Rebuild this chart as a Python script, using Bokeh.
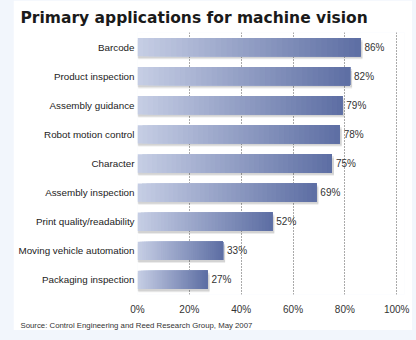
from bokeh.plotting import figure
from bokeh.models import Range1d, FactorRange, FixedTicker, Title, ColumnDataSource
from bokeh.layouts import column
from bokeh.transform import dodge
from bokeh.embed import file_html
from bokeh.resources import INLINE
from bokeh.core.properties import value

categories = ["Barcode", "Product inspection", "Assembly guidance", "Robot motion control",
              "Character", "Assembly inspection", "Print quality/readability",
              "Moving vehicle automation", "Packaging inspection"]
percent = [86, 82, 79, 78, 75, 69, 52, 33, 27]
tick_values = [0, 20, 40, 60, 80, 100]
tick_labels = ["0%", "20%", "40%", "60%", "80%", "100%"]
title_text = "Primary applications for machine vision"
source_text = "Source: Control Engineering and Reed Research Group, May 2007"

FONT = "Liberation Sans"
LIGHT = (197, 205, 228)
DARK = (94, 111, 164)


def mix(t):
    r = [int(round(a + (b - a) * t)) for a, b in zip(LIGHT, DARK)]
    return "#%02x%02x%02x" % tuple(r)


p = figure(width=399, height=330,
           y_range=FactorRange(factors=list(reversed(categories))),
           x_range=Range1d(0, 103),
           output_backend="svg", toolbar_location=None,
           min_border_left=124, min_border_right=8, min_border_top=32, min_border_bottom=10,
           margin=(0, 4, 10, 13))
p.outline_line_color = None
p.background_fill_color = "white"
p.border_fill_color = "white"

# shadows
shadow = ColumnDataSource(dict(y=categories, right=[v + 0.8 for v in percent]))
p.hbar(y=dodge("y", -0.07, range=p.y_range), left=0, right="right", height=0.63,
       fill_color="#000000", fill_alpha=0.10, line_color=None, source=shadow)
p.hbar(y=dodge("y", -0.12, range=p.y_range), left=0.3, right="right", height=0.6,
       fill_color="#000000", fill_alpha=0.08, line_color=None, source=shadow)

# gradient bars
N = 40
ys, lefts, rights, cols = [], [], [], []
for c, v in zip(categories, percent):
    for j in range(N):
        ys.append(c)
        lefts.append(v * j / N)
        rights.append(v)
        cols.append(mix(j / (N - 1)))
bars = ColumnDataSource(dict(y=ys, left=lefts, right=rights, color=cols))
p.hbar(y="y", left="left", right="right", height=0.63, fill_color="color",
       line_color=None, source=bars)

# value labels
labels = ColumnDataSource(dict(x=percent, y=categories, t=[f"{v}%" for v in percent]))
p.text(x="x", y="y", text="t", source=labels, x_offset=4, text_baseline="middle",
       text_font_size="10px", text_color="#333333", text_font=value(FONT))

# axes
p.xaxis.ticker = FixedTicker(ticks=tick_values)
p.xaxis.major_label_overrides = dict(zip(tick_values, tick_labels))
p.xaxis.axis_line_color = None
p.xaxis.major_tick_line_color = None
p.xaxis.minor_tick_line_color = None
p.xaxis.major_tick_out = 0
p.xaxis.major_tick_in = 0
p.xaxis.major_label_standoff = 9
p.xaxis.major_label_text_font = FONT
p.xaxis.major_label_text_font_size = "10px"
p.xaxis.major_label_text_color = "#333333"

p.yaxis.axis_line_color = None
p.yaxis.major_tick_line_color = None
p.yaxis.minor_tick_line_color = None
p.yaxis.major_tick_out = 0
p.yaxis.major_tick_in = 0
p.yaxis.major_label_standoff = 3
p.yaxis.major_label_text_font = FONT
p.yaxis.major_label_text_font_size = "9.8px"
p.yaxis.major_label_text_color = "#222222"

p.xgrid.ticker = FixedTicker(ticks=tick_values)
p.xgrid.grid_line_dash = "1 2"
p.xgrid.grid_line_color = "#555555"
p.ygrid.grid_line_color = None

p.title.text = title_text
p.title.align = "left"
p.title.offset = -117
p.title.text_font = "DejaVu Sans"
p.title.text_font_style = "bold"
p.title.text_font_size = "15.5px"
p.title.text_color = "#1a1a1a"
p.title.standoff = 11

p.add_layout(Title(text=source_text, align="left", offset=-117, text_font=FONT,
                   text_font_style="normal", text_font_size="7.8px",
                   text_color="#333333", standoff=2), "below")

layout = column(p, width=416, height=340, styles={"background-color": "#f2f6fc"})

open("out.html", "w").write(file_html(layout, INLINE))
